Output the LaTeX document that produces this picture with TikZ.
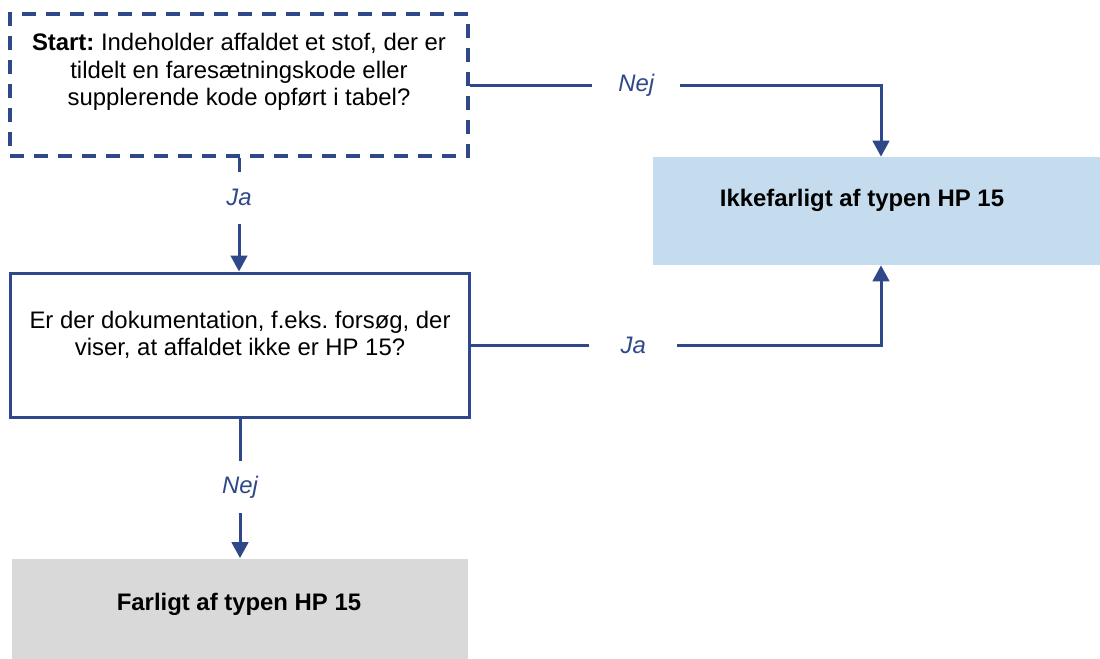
\documentclass[tikz,border=0pt]{standalone}
\usepackage{fontspec}
\setmainfont{Liberation Sans}
\usetikzlibrary{arrows.meta}
\frenchspacing
\definecolor{navy}{RGB}{47,72,138}
\definecolor{paleblue}{RGB}{197,220,238}
\definecolor{palegray}{RGB}{217,217,217}
\tikzset{
  x=0.02cm, y=-0.02cm,
  qbox/.style={draw=navy, line width=0.06cm, rectangle, inner sep=0pt},
  resbox/.style={rectangle, draw=none, inner sep=0pt},
  boxtext/.style={align=center, font=\fontsize{13.6}{15.7}\selectfont, text=black},
  conn/.style={draw=navy, line width=0.06cm, -{Triangle[length=0.32cm,width=0.33cm]}},
  lbl/.style={fill=white, inner sep=0pt, font=\fontsize{13.6}{15}\selectfont\itshape, text=navy},
  hlbl/.style={lbl, minimum width=1.76cm, minimum height=0.5cm},
  vlbl/.style={lbl, minimum width=0.9cm, minimum height=1.04cm},
}
\begin{document}
\begin{tikzpicture}
\useasboundingbox[fill=white] (0,0) rectangle (1100,659);

% question boxes
\node[qbox, line width=0.068cm, dash pattern=on 0.285cm off 0.195cm,
      minimum width=9.16cm, minimum height=2.84cm] (start) at (239,85) {};
\node[boxtext] (starttext) at (239,72)
  {\textbf{Start:} Indeholder affaldet et stof, der er\\tildelt en faresætningskode eller\\supplerende kode opført i tabel?};

\node[qbox, minimum width=9.2cm, minimum height=2.9cm] (doc) at (240,345.5) {};
\node[boxtext] (doctext) at (240,335)
  {Er der dokumentation, f.eks. forsøg, der\\viser, at affaldet ikke er HP 15?};

% result boxes
\node[resbox, fill=paleblue, minimum width=8.94cm, minimum height=2.16cm] (ikke) at (876.5,211) {};
\node[boxtext] (ikketext) at (862,200) {\textbf{Ikkefarligt af typen HP 15}};

\node[resbox, fill=palegray, minimum width=9.12cm, minimum height=2.06cm] (farligt) at (240,610) {};
\node[boxtext] (farligttext) at (239,604) {\textbf{Farligt af typen HP 15}};

% connectors
\draw[conn] (start.east) -- node[hlbl, pos=0.405] {Nej} ([xshift=0.09cm]ikke.north |- start.east)
  -- ([xshift=0.09cm]ikke.north);
\draw[conn] (start.south) -- node[vlbl, pos=0.35] {Ja} (doc.north -| start.south);
\draw[conn] (doc.east) -- node[hlbl, pos=0.395] {Ja} ([xshift=0.09cm]ikke.south |- doc.east)
  -- ([xshift=0.09cm]ikke.south);
\draw[conn] (doc.south) -- node[vlbl, pos=0.49] {Nej} (farligt.north -| doc.south);
\end{tikzpicture}
\end{document}
